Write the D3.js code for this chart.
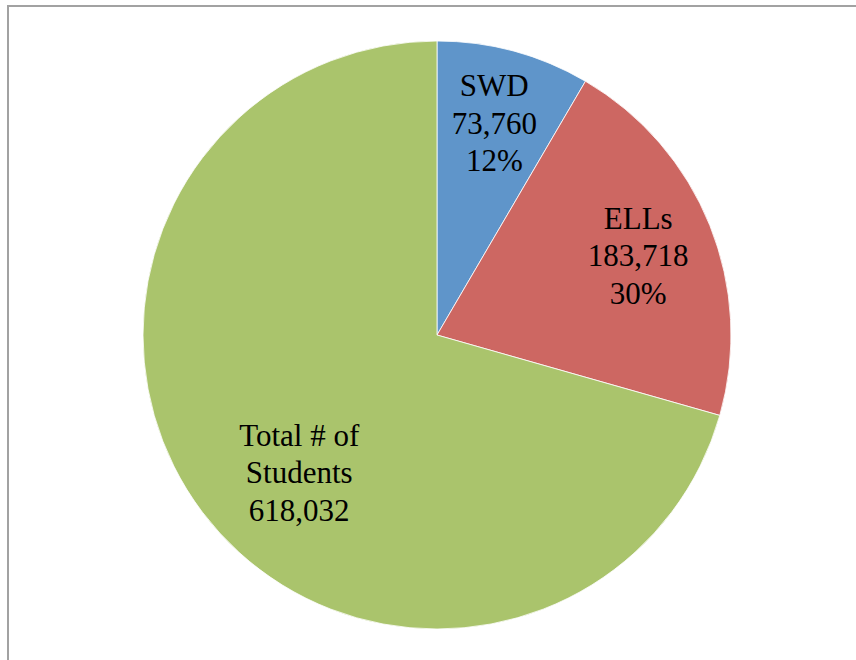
<!DOCTYPE html>
<html>
<head>
<meta charset="utf-8">
<script src="https://cdn.jsdelivr.net/npm/d3@7/dist/d3.min.js"></script>
<style>
  html, body { margin: 0; padding: 0; background: #fff; }
  svg { display: block; }
</style>
</head>
<body>
<svg id="chart" width="856" height="660"></svg>
<script>
// Student groups shown as pie slices, clockwise from 12 o'clock
const categories = ["SWD", "ELLs", "Total # of Students"];
const values = [73760, 183718, 618032];
const colors = ["#5F95CA", "#CD6762", "#AAC46C"];
// label lines for each slice; percentages are shares of the student total
const labelLines = [
  ["SWD", "73,760", "12%"],
  ["ELLs", "183,718", "30%"],
  ["Total # of", "Students", "618,032"]
];

const svg = d3.select("#chart");
const W = 856, H = 660;
const cx = 437, cy = 335, R = 294;

// outer frame (right and bottom edges lie beyond the view)
svg.append("path")
  .attr("d", `M8,${H + 10} L8,6 L${W + 10},6`)
  .attr("fill", "none")
  .attr("stroke", "#a2a2a2")
  .attr("stroke-width", 2);

const pie = d3.pie().sort(null).value(d => d).startAngle(0).endAngle(2 * Math.PI);
const arcs = pie(values);

const arc = d3.arc().innerRadius(0).outerRadius(R);
const labelArc = d3.arc().innerRadius(0.745 * R).outerRadius(0.745 * R);
const labelNudge = [[0, -1], [-2, 2], [37, 5]];

const g = svg.append("g").attr("transform", `translate(${cx},${cy})`);

g.selectAll("path.slice")
  .data(arcs)
  .join("path")
  .attr("class", "slice")
  .attr("d", arc)
  .attr("fill", (d, i) => colors[i])
  .attr("stroke", "#ffffff")
  .attr("stroke-width", 0.8);

const lineH = 37.5;
g.selectAll("text.lbl")
  .data(arcs)
  .join("text")
  .attr("class", "lbl")
  .attr("text-anchor", "middle")
  .attr("font-family", "'Liberation Serif', 'Times New Roman', serif")
  .attr("font-size", 31)
  .attr("fill", "#000")
  .each(function (d, i) {
    const [x, y] = labelArc.centroid(d);
    const px = x + labelNudge[i][0], py = y + labelNudge[i][1];
    const lines = labelLines[i];
    const t = d3.select(this);
    lines.forEach((s, k) => {
      t.append("tspan")
        .attr("x", px)
        .attr("y", py + (k - (lines.length - 1) / 2) * lineH + 11)
        .text(s);
    });
  });
</script>
</body>
</html>
